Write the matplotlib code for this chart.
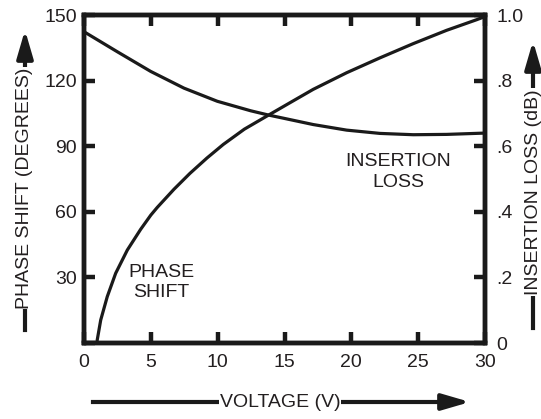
import matplotlib
matplotlib.use("Agg")
import matplotlib.pyplot as plt

# ---- data ----
phase_v = [0.95, 1.25, 1.74, 2.37, 3.24, 4.24, 5.0, 5.48, 6.73, 7.93, 9.2, 10.42, 12.0, 13.8,
           15.5, 17.15, 19.65, 22.14, 24.63, 27.13, 29.4, 30.0]
phase_deg = [0, 10.5, 21.2, 31.9, 42.5, 52.0, 58.5, 62.0, 70.3, 77.6, 84.6, 90.8, 97.8, 104.2,
             110.2, 116.0, 123.6, 130.4, 136.9, 143.0, 147.9, 149.3]

loss_v = [0, 2.49, 4.99, 7.48, 9.97, 12.47, 13.8, 14.96, 17.15, 19.65, 22.14, 24.63, 27.13, 30.0]
loss_db = [0.949, 0.888, 0.828, 0.777, 0.737, 0.708, 0.695, 0.685, 0.666, 0.649, 0.639, 0.635, 0.636, 0.640]

x_ticks = [0, 5, 10, 15, 20, 25, 30]
left_ticks = [0, 30, 60, 90, 120, 150]
left_labels = ["", "30", "60", "90", "120", "150"]
right_ticks = [0, 0.2, 0.4, 0.6, 0.8, 1.0]
right_labels = ["0", ".2", ".4", ".6", ".8", "1.0"]

FONT = ["Liberation Sans", "DejaVu Sans"]
FS = 14
TXT = "#231f20"
INK = "#1a1a1a"
plt.rcParams["font.family"] = FONT

W, H = 541, 419
fig = plt.figure(figsize=(W / 100, H / 100), dpi=100)
ax = fig.add_axes([84 / W, 1 - 343 / H, (485 - 84) / W, (343 - 15) / H])
ax2 = ax.twinx()

ax.plot(phase_v, phase_deg, color=INK, lw=2.3, solid_capstyle="butt", solid_joinstyle="round")
ax2.plot(loss_v, loss_db, color=INK, lw=2.3, solid_capstyle="butt", solid_joinstyle="round")

ax.set_xlim(0, 30)
ax.set_ylim(0, 150)
ax2.set_ylim(0, 1.0)

for a in (ax, ax2):
    for s in a.spines.values():
        s.set_linewidth(3.2)
        s.set_color(INK)

ax.set_xticks(x_ticks)
ax.set_xticklabels([str(t) for t in x_ticks])
ax.set_yticks(left_ticks)
ax.set_yticklabels(left_labels)
ax.tick_params(axis="x", direction="in", length=8, width=3.2, top=True,
               labelsize=FS, labelcolor=TXT, pad=8, color=INK)
ax.tick_params(axis="y", direction="in", length=8, width=3.2,
               labelsize=FS, labelcolor=TXT, pad=5, color=INK)
ax2.set_yticks(right_ticks)
ax2.set_yticklabels(right_labels)
ax2.tick_params(axis="y", direction="in", length=8, width=3.2,
                labelsize=FS, labelcolor=TXT, pad=8, color=INK)


def fp(x, y):
    return (x, H - y)


# in-plot labels (figure pixel coordinates)
fig.text(161 / W, 1 - 272 / H, "PHASE", fontsize=FS, color=TXT, ha="center", va="center")
fig.text(161 / W, 1 - 292 / H, "SHIFT", fontsize=FS, color=TXT, ha="center", va="center")
fig.text(398 / W, 1 - 161 / H, "INSERTION", fontsize=FS, color=TXT, ha="center", va="center")
fig.text(398 / W, 1 - 182 / H, "LOSS", fontsize=FS, color=TXT, ha="center", va="center")

arrow_kw = dict(arrowstyle="-|>,head_length=1.2,head_width=0.35", lw=3, color=INK,
                shrinkA=0, shrinkB=0, mutation_scale=14)

# x axis label with arrow
fig.add_artist(plt.Line2D([93 / W, 460 / W], [1 - 402 / H, 1 - 402 / H], lw=3, color=INK))
ax.annotate("", xy=fp(470, 402), xytext=fp(440, 402), xycoords="figure pixels",
            textcoords="figure pixels", arrowprops=arrow_kw, annotation_clip=False)
fig.text(280 / W, 1 - 402 / H, "VOLTAGE (V)", fontsize=FS, color=TXT, ha="center", va="center",
         bbox=dict(facecolor="white", edgecolor="none", pad=0.5), zorder=5)

# left axis label
fig.add_artist(plt.Line2D([25 / W, 25 / W], [1 - 330 / H, 1 - 45 / H], lw=3, color=INK))
ax.annotate("", xy=fp(25, 30), xytext=fp(25, 60), xycoords="figure pixels",
            textcoords="figure pixels", arrowprops=arrow_kw, annotation_clip=False)
fig.text(25 / W, 1 - 188 / H, "PHASE SHIFT (DEGREES)", fontsize=FS, color=TXT, ha="center",
         va="center", rotation=90, bbox=dict(facecolor="white", edgecolor="none", pad=0.5), zorder=5)

# right axis label
fig.add_artist(plt.Line2D([533 / W, 533 / W], [1 - 328 / H, 1 - 55 / H], lw=3, color=INK))
ax.annotate("", xy=fp(533, 41), xytext=fp(533, 70), xycoords="figure pixels",
            textcoords="figure pixels", arrowprops=arrow_kw, annotation_clip=False)
fig.text(533 / W, 1 - 192 / H, "INSERTION LOSS (dB)", fontsize=FS, color=TXT, ha="center",
         va="center", rotation=90, bbox=dict(facecolor="white", edgecolor="none", pad=0.5), zorder=5)

fig.savefig("out.png", dpi=100)
